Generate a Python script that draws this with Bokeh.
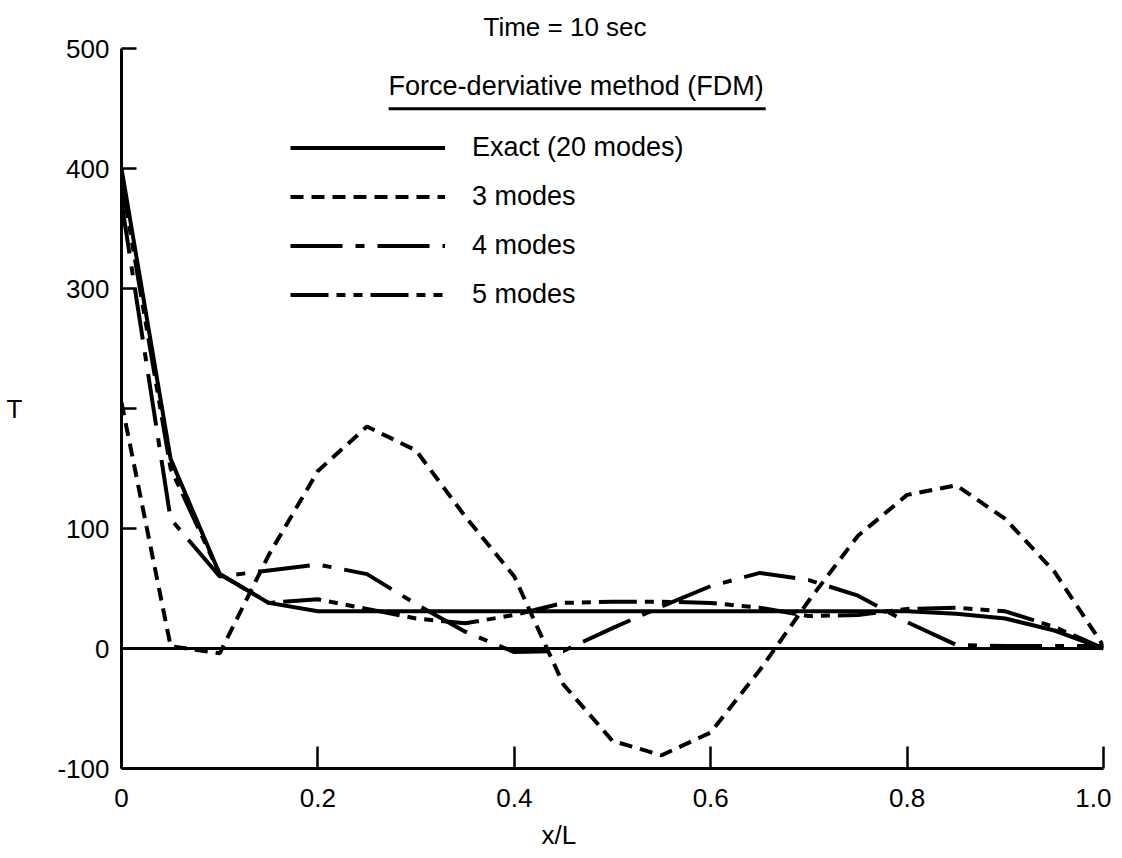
from bokeh.plotting import figure
from bokeh.models import Range1d, Legend, LegendItem, Label, FixedTicker, BoxAnnotation, Span, Title
from bokeh.embed import file_html
from bokeh.resources import INLINE

# ---- data ----
x_over_L = [0.0, 0.05, 0.10, 0.15, 0.20, 0.25, 0.30, 0.35, 0.40, 0.45, 0.50,
            0.55, 0.60, 0.65, 0.70, 0.75, 0.80, 0.85, 0.90, 0.95, 1.0]
exact_20_modes = [400, 158, 62, 38, 31, 31, 31, 31, 31, 31, 31,
                  31, 31, 31, 31, 31, 31, 29, 25, 15, 0]
modes_3 = [205, 2, -4, 78, 148, 185, 165, 110, 60, -30, -77,
           -89, -70, -18, 40, 94, 128, 136, 108, 64, 2]
modes_4 = [372, 108, 60, 65, 70, 62, 37, 14, -3, -2, 17,
           35, 52, 63, 57, 44, 22, 3, 2, 2, 2]
modes_5 = [390, 150, 62, 38, 41, 33, 25, 21, 28, 38, 39,
           39, 38, 34, 27, 28, 33, 34, 31, 18, 0]

series_labels = ["Exact (20 modes)", "3 modes", "4 modes", "5 modes"]
x_ticks = [0, 0.2, 0.4, 0.6, 0.8, 1.0]
x_tick_labels = ["0", "0.2", "0.4", "0.6", "0.8", "1.0"]
y_ticks = [-100, 0, 100, 200, 300, 400, 500]
y_tick_labels = ["-100", "0", "100", "", "300", "400", "500"]

FONT = "Liberation Sans"

p = figure(frame_width=982, frame_height=720, output_backend="svg", toolbar_location=None,
           x_range=Range1d(0, 1.0), y_range=Range1d(-100, 500),
           min_border_left=121, min_border_right=8, min_border_top=48, min_border_bottom=10)
p.outline_line_color = None
p.xgrid.visible = False
p.ygrid.visible = False
p.background_fill_color = "white"
p.border_fill_color = "white"

# title (placed left of centre, as in the reference)
p.title.text = "Time = 10 sec"
p.title.align = "left"
p.title.offset = 362
p.title.standoff = 14
p.title.text_font = FONT
p.title.text_font_style = "normal"
p.title.text_font_size = "26px"
p.title.text_color = "black"

# axes
for ax in (p.xaxis[0], p.yaxis[0]):
    ax.axis_line_width = 3
    ax.axis_line_color = "black"
    ax.major_tick_line_width = 2.5
    ax.major_tick_line_color = "black"
    ax.major_tick_out = 0
    ax.minor_tick_line_color = None
    ax.major_label_text_font = FONT
    ax.major_label_text_font_size = "26px"
    ax.major_label_text_color = "black"
    ax.axis_label_text_font = FONT
    ax.axis_label_text_font_style = "normal"
    ax.axis_label_text_font_size = "26px"
    ax.axis_label_text_color = "black"

p.xaxis.ticker = FixedTicker(ticks=x_ticks)
p.xaxis.major_label_overrides = {t: l for t, l in zip(x_ticks, x_tick_labels)}
p.xaxis.major_tick_in = 22
p.xaxis.major_label_standoff = 20

p.yaxis.ticker = FixedTicker(ticks=y_ticks)
p.yaxis.major_label_overrides = {t: l for t, l in zip(y_ticks, y_tick_labels)}
p.yaxis.major_tick_in = 15
p.yaxis.major_label_standoff = 12
p.yaxis.axis_label = "T"
p.yaxis.axis_label_orientation = "horizontal"
p.yaxis.axis_label_standoff = 32

# x axis title, left of centre as in the reference
p.add_layout(Title(text="x/L", align="left", offset=420, standoff=16, text_font=FONT,
                   text_font_style="normal", text_font_size="26px", text_color="black"), "below")

# zero line
p.add_layout(Span(location=0, dimension="width", line_color="black", line_width=3))

LW = 4
r_exact = p.line(x_over_L, exact_20_modes, line_color="black", line_width=LW)
r_3 = p.line(x_over_L, modes_3, line_color="black", line_width=LW, line_dash="13 8")
r_4 = p.line(x_over_L, modes_4, line_color="black", line_width=LW, line_dash="52 13 9 13")
r_5 = p.line(x_over_L, modes_5, line_color="black", line_width=LW, line_dash="38 8 9 8 9 8")

legend = Legend(items=[LegendItem(label=series_labels[0], renderers=[r_exact]),
                       LegendItem(label=series_labels[1], renderers=[r_3]),
                       LegendItem(label=series_labels[2], renderers=[r_4]),
                       LegendItem(label=series_labels[3], renderers=[r_5])],
                location=(169, 458), orientation="vertical",
                glyph_width=155, glyph_height=31, label_height=31, label_standoff=27,
                spacing=18, padding=0, margin=0,
                label_text_font=FONT, label_text_font_size="27px", label_text_color="black",
                border_line_alpha=0, background_fill_alpha=0)
p.add_layout(legend)

# legend header with underline
p.add_layout(Label(x=0.272, y=469, text="Force-derviative method (FDM)", text_align="left",
                   text_baseline="middle", text_font=FONT, text_font_size="27px", text_color="black"))
p.add_layout(BoxAnnotation(left=0.272, right=0.656, top=451, bottom=448.5,
                           fill_color="black", fill_alpha=1, line_color=None))

open("out.html", "w").write(file_html(p, INLINE))
